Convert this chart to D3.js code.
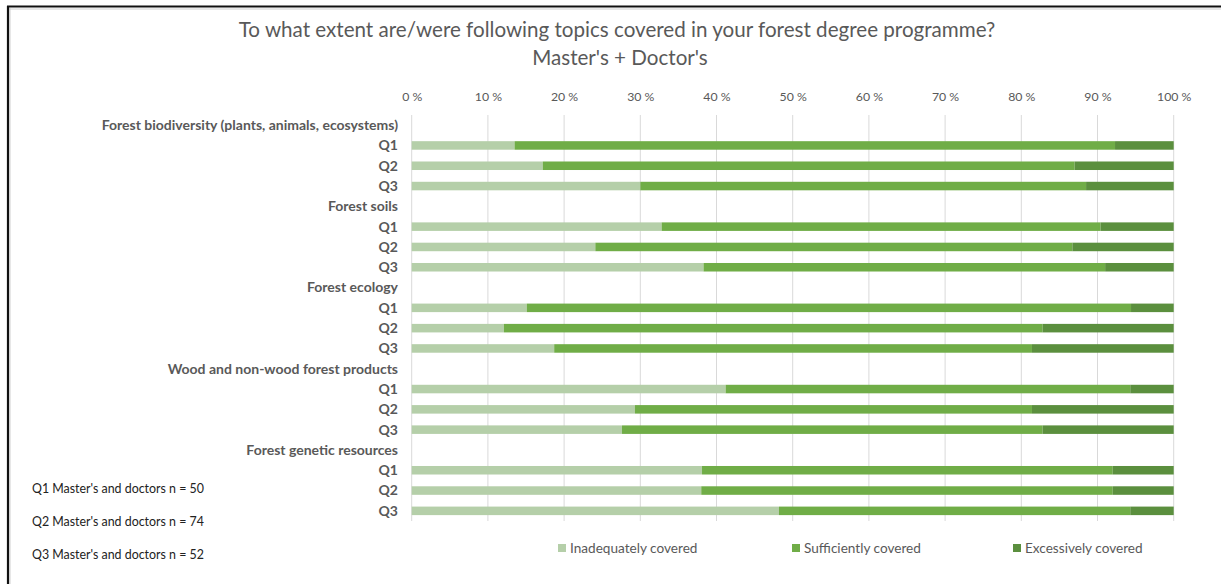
<!DOCTYPE html>
<html>
<head>
<meta charset="utf-8">
<script src="https://cdn.jsdelivr.net/npm/d3@7"></script>
<style>
  html, body { margin: 0; padding: 0; background: #fff; }
  svg { display: block; font-family: Lato, "Open Sans", sans-serif; }
</style>
</head>
<body>
<svg id="chart" width="1221" height="584"></svg>
<script>
const topics = [
  "Forest biodiversity (plants, animals, ecosystems)",
  "Forest soils",
  "Forest ecology",
  "Wood and non-wood forest products",
  "Forest genetic resources"
];
const groups = ["Q1", "Q2", "Q3"];
const seriesNames = ["Inadequately covered", "Sufficiently covered", "Excessively covered"];
// values per topic, per group (Q1,Q2,Q3), in percent
const inadequate = [
  [13.5, 17.2, 30.0],
  [32.8, 24.1, 38.3],
  [15.1, 12.1, 18.7],
  [41.2, 29.3, 27.6],
  [38.1, 38.0, 48.2]
];
const sufficient = [
  [78.8, 69.8, 58.5],
  [57.6, 62.6, 52.7],
  [79.3, 70.7, 62.7],
  [53.1, 52.1, 55.2],
  [53.9, 54.0, 46.1]
];
const excessive = [
  [7.7, 13.0, 11.5],
  [9.6, 13.3, 9.0],
  [5.6, 17.2, 18.6],
  [5.7, 18.6, 17.2],
  [8.0, 8.0, 5.7]
];
const tickValues = [0, 10, 20, 30, 40, 50, 60, 70, 80, 90, 100];
const notes = [
  "Q1 Master's and doctors n = 50",
  "Q2 Master's and doctors n = 74",
  "Q3 Master's and doctors n = 52"
];
const colors = ["#b5cfa9", "#70ad47", "#5b8f3e"];

const svg = d3.select("#chart");

// frame (top and left only)
svg.append("line").attr("x1", 8).attr("x2", 1221).attr("y1", 7).attr("y2", 7)
  .attr("stroke", "#d0d0d0").attr("stroke-width", 1).attr("transform", "translate(1,2)");
svg.append("line").attr("x1", 8).attr("x2", 8).attr("y1", 7).attr("y2", 584)
  .attr("stroke", "#d0d0d0").attr("stroke-width", 1).attr("transform", "translate(2,1)");
svg.append("line").attr("x1", 7).attr("x2", 1221).attr("y1", 6.5).attr("y2", 6.5)
  .attr("stroke", "#111").attr("stroke-width", 2.2);
svg.append("line").attr("x1", 8).attr("x2", 8).attr("y1", 6).attr("y2", 584)
  .attr("stroke", "#111").attr("stroke-width", 2.2);

// title
svg.append("text").attr("x", 617).attr("y", 37).attr("text-anchor", "middle")
  .attr("font-size", 20.6).attr("fill", "#595959")
  .text("To what extent are/were following topics covered in your forest degree programme?");
svg.append("text").attr("x", 620).attr("y", 65).attr("text-anchor", "middle")
  .attr("font-size", 20.6).attr("fill", "#595959")
  .text("Master's + Doctor's");

// rows
const rows = [];
topics.forEach((t, i) => {
  rows.push({ key: "h" + i, label: t, header: true });
  groups.forEach((g, j) => {
    rows.push({ key: "r" + i + "_" + j, label: g, header: false,
      vals: [inadequate[i][j], sufficient[i][j], excessive[i][j]] });
  });
});

const x = d3.scaleLinear().domain([0, 100]).range([411.7, 1173.7]);
const y = d3.scaleBand().domain(rows.map(r => r.key)).range([115, 521]).paddingInner(0.58).paddingOuter(0.29);

// gridlines
svg.append("g").selectAll("line").data(tickValues).join("line")
  .attr("x1", d => x(d)).attr("x2", d => x(d))
  .attr("y1", 115).attr("y2", 521)
  .attr("stroke", "#d9d9d9").attr("stroke-width", 1);

// top axis
const axis = d3.axisTop(x).tickValues(tickValues).tickFormat(d => d + " %").tickSize(0);
const ag = svg.append("g").attr("transform", "translate(0,104)").call(axis);
ag.select(".domain").remove();
ag.selectAll("text").attr("font-size", 12.3).attr("fill", "#595959")
  .attr("font-family", "Lato, 'Open Sans', sans-serif");

// bars
const barRows = rows.filter(r => !r.header);
barRows.forEach(r => {
  let acc = 0;
  r.vals.forEach((v, k) => {
    svg.append("rect")
      .attr("x", x(acc)).attr("width", x(acc + v) - x(acc))
      .attr("y", y(r.key)).attr("height", y.bandwidth())
      .attr("fill", colors[k]);
    acc += v;
  });
});

// row labels
svg.append("g").selectAll("text").data(rows).join("text")
  .attr("x", 398)
  .attr("y", r => y(r.key) + y.bandwidth() / 2)
  .attr("dy", "0.35em")
  .attr("text-anchor", "end")
  .attr("font-size", 14)
  .attr("font-weight", "bold")
  .attr("fill", "#595959")
  .text(r => r.label);

// notes
svg.append("g").selectAll("text").data(notes).join("text")
  .attr("x", 32).attr("y", (d, i) => 493 + i * 33)
  .attr("font-size", 12.4).attr("fill", "#222")
  .text(d => d);

// legend
const legendX = [558, 792, 1013];
const lg = svg.append("g").selectAll("g").data(seriesNames).join("g")
  .attr("transform", (d, i) => `translate(${legendX[i]},548)`);
lg.append("rect").attr("x", 0).attr("y", -4).attr("width", 8).attr("height", 8)
  .attr("fill", (d, i) => colors[i]);
lg.append("text").attr("x", 12).attr("y", 0).attr("dy", "0.35em")
  .attr("font-size", 13.6).attr("fill", "#595959").text(d => d);
</script>
</body>
</html>
